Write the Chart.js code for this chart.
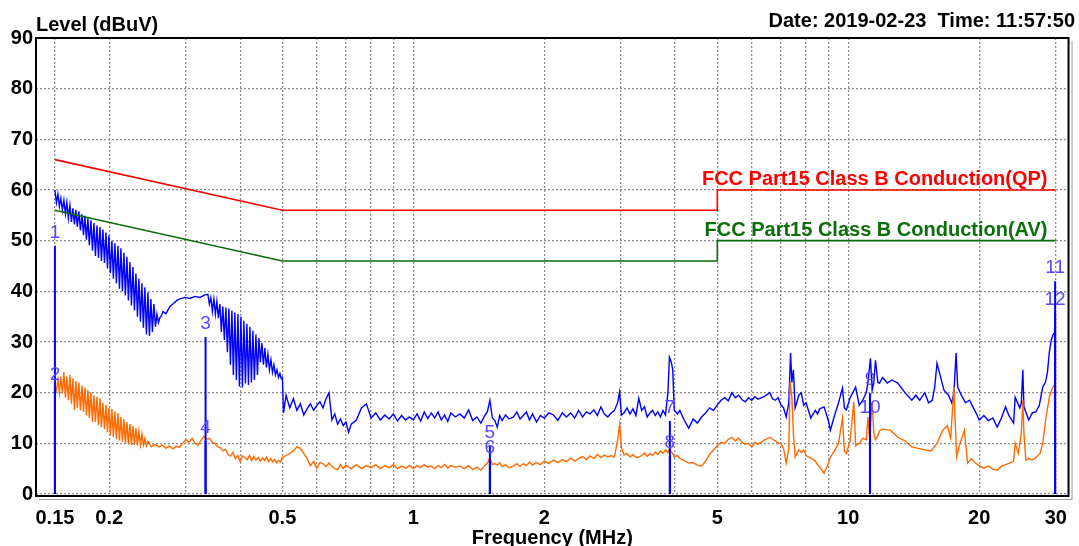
<!DOCTYPE html>
<html>
<head>
<meta charset="utf-8">
<script src="https://cdn.jsdelivr.net/npm/chart.js@4.4.1/dist/chart.umd.min.js"></script>
<style>
html,body{margin:0;padding:0;background:#fff;}
#c{display:block;}
</style>
</head>
<body>
<canvas id="c" width="1079" height="546" style="width:1079px;height:546px"></canvas>
<script>
// ---------------- data ----------------
const chartTitle = 'Level (dBuV)';
const stampText = 'Date: 2019-02-23  Time: 11:57:50';
const xAxisTitle = 'Frequency (MHz)';

const xGridTicks = [0.15,0.2,0.3,0.4,0.5,0.6,0.7,0.8,0.9,1,2,3,4,5,6,7,8,9,10,20,30];
const xTickLabels = [0.15,0.2,0.5,1,2,5,10,20,30];
const yTicks = [0,10,20,30,40,50,60,70,80,90];

const qpLimitName = 'FCC Part15 Class B Conduction(QP)';
const qpLimitFreq = [0.15,0.5,5,5,30];
const qpLimitLevel = [66,56,56,60,60];
const avLimitName = 'FCC Part15 Class B Conduction(AV)';
const avLimitFreq = [0.15,0.5,5,5,30];
const avLimitLevel = [56,46,46,50,50];

// QP (blue) trace
const qpFreq = [
0.1500,0.1512,0.1524,0.1536,0.1548,0.1560,0.1573,0.1586,0.1598,0.1611,0.1624,0.1637,0.1650,0.1663,0.1676,0.1689,
0.1703,0.1717,0.1731,0.1745,0.1758,0.1772,0.1786,0.1800,0.1815,0.1830,0.1844,0.1859,0.1874,0.1889,0.1904,0.1919,
0.1934,0.1950,0.1965,0.1981,0.1996,0.2012,0.2028,0.2044,0.2061,0.2077,0.2094,0.2111,0.2127,0.2144,0.2161,0.2178,
0.2196,0.2213,0.2231,0.2249,0.2267,0.2285,0.2303,0.2322,0.2340,0.2359,0.2377,0.2396,0.2415,0.2435,0.2454,0.2474,
0.2493,0.2513,0.2533,0.2554,0.2574,0.2594,0.2615,0.2636,0.2657,0.2700,0.2757,0.2801,0.2861,0.2907,0.2985,0.3065,
0.3147,0.3231,0.3317,
0.3371,0.3398,0.3425,0.3452,0.3480,0.3508,0.3535,0.3563,0.3592,0.3620,0.3649,0.3678,0.3708,0.3738,0.3768,0.3798,
0.3828,0.3858,0.3889,0.3920,0.3952,0.3983,0.4015,0.4047,0.4079,0.4112,0.4145,0.4178,0.4211,0.4245,0.4278,0.4312,
0.4347,0.4382,0.4417,0.4452,0.4487,0.4523,0.4559,0.4595,0.4632,0.4669,0.4707,0.4745,0.4782,0.4820,0.4859,0.4898,
0.4936,0.4970,0.500,
0.503,0.51,0.52,0.53,0.54,0.55,0.56,0.57,0.58,0.59,0.60,0.61,0.62,0.63,0.64,0.65,0.66,0.67,0.68,0.69,0.70,0.71,0.72,
0.74,0.76,0.78,0.80,0.82,0.84,0.86,0.88,0.90,0.92,0.94,0.96,0.98,1.00,1.02,1.04,1.06,1.08,1.10,1.12,1.14,1.16,1.18,
1.20,1.22,1.25,1.28,1.31,1.34,1.37,1.40,1.43,1.46,1.48,1.50,1.52,1.54,1.56,1.58,1.60,1.63,1.66,1.70,1.73,1.76,1.79,
1.82,1.85,1.88,1.92,1.96,2.00,2.05,2.10,2.15,2.20,2.25,2.30,2.35,2.40,2.45,2.50,2.55,2.60,2.65,2.70,2.75,2.80,2.85,
2.90,2.95,2.98,3.01,3.05,3.10,3.15,3.20,3.25,3.30,3.35,3.40,3.45,3.50,3.55,3.60,3.65,3.70,3.75,3.80,3.85,3.88,3.92,
3.95,3.98,4.05,4.10,4.20,4.30,4.40,4.50,4.60,4.70,4.80,4.90,5.00,5.1,5.2,5.3,5.4,5.5,5.6,5.7,5.8,5.9,6.0,6.1,6.2,
6.4,6.6,6.7,6.8,6.9,7.0,7.1,7.2,7.3,7.37,7.42,7.48,7.55,7.7,7.8,7.9,8.0,8.2,8.4,8.5,8.6,8.8,9.0,9.1,9.3,9.5,9.7,
9.8,9.9,10.1,10.4,10.6,10.8,11.0,11.1,11.25,11.35,11.45,11.55,11.7,11.8,12.0,12.3,12.6,13.0,13.5,14.0,14.3,14.6,
15.0,15.3,15.6,15.8,16.0,16.2,16.6,17.0,17.3,17.5,17.7,17.85,18.2,18.6,19.0,19.4,19.8,20.0,20.5,21.0,21.5,22.0,
22.5,23.0,23.4,24.0,24.2,24.8,25.0,25.2,25.35,26.0,26.5,27.0,27.5,28.0,28.4,28.7,29.0,29.3,29.6,30.0
];
const qpLevel = [
60.0,57.5,59.2,56.8,58.4,56.0,58.0,55.3,57.6,54.4,57.0,53.7,56.4,53.2,56.1,52.7,
55.8,52.0,55.2,51.1,54.9,50.2,54.4,49.1,54.0,48.0,53.5,47.0,53.0,46.6,52.7,46.0,
52.2,45.6,51.6,44.5,51.0,43.6,50.0,42.5,49.5,41.6,49.0,40.5,48.5,40.0,47.6,39.2,
46.8,38.2,45.8,37.2,44.8,36.2,43.5,35.0,42.5,34.0,41.6,32.8,40.8,31.5,39.8,31.2,
38.5,32.0,37.5,33.0,35.5,33.8,34.8,35.2,36.0,35.6,37.0,37.5,38.2,38.5,38.8,38.6,
39.0,38.8,39.3,
39.4,37.5,38.8,36.0,38.5,35.5,38.0,34.7,37.5,32.0,37.0,30.4,36.8,28.0,36.6,25.5,
36.2,23.5,35.8,22.5,35.5,21.2,35.0,21.0,34.2,21.8,33.6,21.5,33.0,22.0,32.2,22.5,
31.5,23.5,30.8,26.0,29.8,25.5,28.8,25.0,27.6,24.5,26.5,24.0,25.5,23.5,24.5,23.0,
23.8,22.8,23.0,
16.0,19.5,17.0,18.8,16.5,17.8,15.6,16.8,17.8,16.5,17.5,18.2,17.0,18.8,20.0,14.6,15.8,13.8,14.8,13.5,14.2,12.2,13.8,
14.6,17.0,17.8,15.0,16.0,14.6,15.6,14.8,15.8,14.4,15.5,14.6,15.2,14.6,15.8,14.4,16.2,14.9,16.0,15.0,16.2,14.6,15.6,
14.3,16.0,15.2,15.8,15.0,16.6,14.5,15.2,14.0,15.5,16.2,18.5,15.0,14.5,13.2,15.5,14.5,15.6,14.8,15.2,16.2,14.8,15.5,
16.2,14.6,15.8,14.2,15.5,15.0,16.0,15.6,14.5,16.0,15.2,16.0,15.0,16.5,15.2,16.2,15.8,16.6,15.5,17.2,15.8,15.2,16.0,
16.5,18.0,20.1,15.6,16.0,17.0,15.8,16.8,15.5,18.9,16.5,17.2,15.2,16.0,16.5,15.5,16.2,15.2,16.5,15.6,20.0,27.0,26.0,
24.5,16.6,15.8,16.5,14.5,13.0,14.8,14.0,15.2,16.0,17.0,16.5,17.6,18.5,19.0,18.4,20.0,19.0,19.5,18.6,18.2,19.0,18.5,19.2,18.7,
19.2,20.0,18.8,18.5,19.0,17.6,17.0,15.2,18.0,27.8,22.0,24.5,17.0,19.5,20.0,17.5,18.0,15.0,16.5,15.8,16.8,17.2,14.5,12.6,15.5,18.0,20.9,
17.0,16.6,19.0,21.1,17.5,18.5,20.0,22.0,26.8,20.5,22.0,26.4,22.0,21.9,23.0,21.9,22.5,21.9,20.0,18.5,19.5,18.5,
20.0,18.0,18.5,21.0,25.8,24.0,20.5,19.5,18.0,20.0,27.8,21.1,19.5,18.0,18.5,17.0,15.5,14.6,15.5,14.5,15.0,13.2,
15.0,17.2,15.5,14.0,19.1,17.0,18.0,24.5,17.2,14.6,16.0,16.2,17.5,21.1,22.0,23.9,28.0,30.4,31.5,32.0
];

// AV (orange) trace
const avFreq = [
0.1500,0.1512,0.1524,0.1536,0.1548,0.1560,0.1573,0.1586,0.1598,0.1611,0.1624,0.1637,0.1650,0.1663,0.1676,0.1689,
0.1703,0.1717,0.1731,0.1745,0.1758,0.1772,0.1786,0.1800,0.1815,0.1830,0.1844,0.1859,0.1874,0.1889,0.1904,0.1919,
0.1934,0.1950,0.1965,0.1981,0.1996,0.2012,0.2028,0.2044,0.2061,0.2077,0.2094,0.2111,0.2127,0.2144,0.2161,0.2178,
0.2196,0.2213,0.2231,0.2249,0.2267,0.2285,0.2303,0.2322,0.2340,0.2359,0.2377,0.2396,0.2415,0.2435,0.2454,
0.250,0.255,0.260,0.265,0.270,0.275,0.280,0.285,0.290,0.295,0.300,0.305,0.310,0.315,0.320,0.325,0.330,0.335,0.340,
0.345,0.350,0.355,0.360,0.365,0.370,0.375,0.380,0.385,0.390,0.395,0.400,0.405,0.410,0.415,0.420,0.425,0.430,0.435,
0.440,0.445,0.450,0.455,0.460,0.465,0.470,0.475,0.480,0.485,0.490,0.495,0.500,
0.51,0.52,0.53,0.54,0.55,0.56,0.57,0.58,0.59,0.60,0.61,0.62,0.63,0.64,0.65,0.66,0.67,0.68,0.69,0.70,0.72,0.74,0.76,
0.78,0.80,0.82,0.84,0.86,0.88,0.90,0.92,0.94,0.96,0.98,1.00,1.02,1.04,1.06,1.08,1.10,1.12,1.14,1.16,1.18,1.20,1.22,
1.25,1.28,1.31,1.34,1.37,1.40,1.43,1.46,1.48,1.50,1.52,1.54,1.56,1.58,1.60,1.63,1.66,1.70,1.73,1.76,1.79,1.82,1.85,
1.88,1.92,1.96,2.00,2.05,2.10,2.15,2.20,2.25,2.30,2.35,2.40,2.45,2.50,2.55,2.60,2.65,2.70,2.75,2.80,2.85,2.90,2.95,
2.98,3.01,3.05,3.10,3.15,3.20,3.25,3.30,3.35,3.40,3.45,3.50,3.55,3.60,3.65,3.70,3.75,3.80,3.85,3.88,3.92,3.95,3.98,
4.05,4.10,4.20,4.30,4.40,4.50,4.60,4.70,4.80,4.90,5.00,5.1,5.2,5.3,5.4,5.5,5.6,5.7,5.8,5.9,6.0,6.1,6.2,6.4,6.6,6.7,
6.8,6.9,7.0,7.1,7.2,7.3,7.35,7.42,7.48,7.55,7.7,7.8,7.9,8.0,8.2,8.4,8.5,8.6,8.8,9.0,9.1,9.3,9.5,9.7,9.8,9.9,10.1,
10.3,10.4,10.6,10.8,11.0,11.1,11.2,11.35,11.45,11.55,11.7,11.8,12.0,12.5,13.0,13.5,14.0,14.5,15.0,15.5,16.0,16.5,
16.9,17.2,17.5,17.6,17.75,18.0,18.5,18.8,19.2,19.6,20.0,20.5,21.0,21.5,22.0,22.5,23.0,23.5,24.0,24.2,24.6,25.0,25.2,
25.35,25.6,26.0,26.5,27.0,27.6,28.0,28.5,29.0,29.5,30.0
];
const avLevel = [
21.5,20.5,22.5,20.0,23.2,19.9,24.0,19.0,23.2,18.5,23.5,17.8,22.8,16.6,22.3,17.0,
22.0,16.5,21.4,16.2,21.0,15.5,20.5,15.0,20.0,14.2,19.5,14.2,19.2,13.6,18.9,13.2,
18.0,12.8,17.6,12.2,17.0,11.6,16.8,11.2,16.3,10.8,16.0,10.5,15.2,10.3,14.8,10.0,
14.2,9.8,13.8,9.7,13.4,9.7,13.0,9.6,12.4,9.7,11.8,9.7,11.0,9.5,10.4,
9.3,9.8,9.3,9.6,9.0,9.5,8.9,9.4,9.2,10.0,10.8,10.2,11.0,10.0,9.6,10.6,11.4,10.8,11.0,
10.2,10.0,9.3,9.1,8.5,8.8,7.8,7.5,8.2,7.0,7.6,6.4,7.5,7.2,6.8,7.6,6.6,7.4,6.7,
7.2,6.5,7.1,6.6,7.3,6.4,7.0,6.3,6.8,6.2,6.6,6.3,7.2,
7.6,8.0,8.5,9.3,9.0,8.0,7.0,5.6,6.4,5.1,6.2,6.0,5.4,6.1,5.5,5.0,4.8,5.8,5.0,5.7,5.0,5.8,5.0,
5.6,5.2,5.8,5.0,5.6,5.2,5.8,5.0,5.5,5.1,5.6,5.0,5.6,5.2,5.8,5.3,5.5,5.0,5.6,5.2,5.8,5.1,5.6,
5.3,5.5,5.0,5.6,4.8,5.3,4.7,5.6,6.1,7.1,5.8,6.0,5.7,6.2,5.4,5.8,5.2,5.5,6.0,5.4,6.0,5.6,6.3,
5.7,6.2,5.8,6.5,6.0,6.7,6.2,6.8,6.4,7.1,6.5,7.0,7.4,6.8,7.5,7.0,7.8,7.2,7.7,7.3,7.6,7.3,10.7,
13.6,9.3,7.7,8.0,7.3,7.8,7.2,7.3,7.6,8.1,7.4,8.0,7.6,8.3,7.8,8.5,8.0,8.7,8.2,8.8,8.3,8.0,7.3,
7.6,7.0,6.6,6.1,6.2,5.7,5.5,6.5,7.8,8.7,9.5,10.2,10.0,10.8,11.2,10.5,11.0,10.2,9.8,10.0,9.3,10.2,9.8,10.6,11.2,10.8,
10.5,10.0,10.0,9.0,6.1,9.0,22.1,19.1,12.0,7.3,8.7,8.2,8.7,7.6,7.1,6.5,5.8,5.3,4.1,6.0,7.3,8.5,10.0,15.0,8.5,8.0,10.5,
18.2,9.5,10.0,11.0,10.7,15.2,11.0,18.0,12.0,10.7,11.5,12.5,12.8,12.6,11.2,10.5,9.3,9.0,8.7,8.5,10.0,12.6,
13.5,11.0,21.1,15.0,7.3,9.5,12.6,6.1,7.0,6.1,5.6,5.1,5.5,4.9,4.7,5.5,5.8,6.1,6.5,10.0,8.0,12.0,18.5,
12.0,6.7,7.0,6.7,7.2,8.0,10.0,15.2,19.1,21.0,22.0
];

// Markers
const markerNo = ['1','2','3','4','5','6','7','8','9','10','11','12'];
const markerFreq = [0.15,0.15,0.333,0.333,1.50,1.50,3.89,3.89,11.22,11.22,29.9,29.9];
const markerLevel = [49.0,21.0,31.0,10.5,9.5,6.5,14.4,7.5,19.9,14.4,42.0,35.8];

// ---------------- chart ----------------
const FONT = "'Liberation Sans', Arial, Helvetica, sans-serif";
const pts = (xs, ys) => xs.map((x, i) => ({x: x, y: ys[i]}));

const markerSets = markerFreq.map((f, i) => ({
  data: [{x: f, y: 0}, {x: f, y: markerLevel[i]}],
  borderColor: '#0000ff', borderWidth: 2, pointRadius: 0, fill: false
}));

const datasets = [
  ...markerSets,
  {data: pts(qpLimitFreq, qpLimitLevel), borderColor: '#ff0000', borderWidth: 1.6, pointRadius: 0, tension: 0},
  {data: pts(avLimitFreq, avLimitLevel), borderColor: '#0a6e0a', borderWidth: 1.6, pointRadius: 0, tension: 0},
  {data: pts(avFreq, avLevel), borderColor: '#ff6a00', borderWidth: 1.4, pointRadius: 0, tension: 0},
  {data: pts(qpFreq, qpLevel), borderColor: '#0000ff', borderWidth: 1.4, pointRadius: 0, tension: 0}
];

const decorPlugin = {
  id: 'decor',
  afterDatasetsDraw(chart) {
    const {ctx, chartArea: a, scales: {x, y}} = chart;
    ctx.save();
    // marker labels
    ctx.font = '19px ' + FONT;
    ctx.fillStyle = '#5a48ff';
    ctx.textAlign = 'center';
    ctx.textBaseline = 'middle';
    markerNo.forEach((n, i) => {
      ctx.fillText(n, x.getPixelForValue(markerFreq[i]), y.getPixelForValue(markerLevel[i]) - 13);
    });
    // limit names
    ctx.font = 'bold 20px ' + FONT;
    ctx.textAlign = 'right';
    ctx.textBaseline = 'alphabetic';
    ctx.fillStyle = '#ff0000';
    ctx.fillText(qpLimitName, a.right - 21, y.getPixelForValue(qpLimitLevel[qpLimitLevel.length - 1]) - 5);
    ctx.fillStyle = '#0a6e0a';
    ctx.fillText(avLimitName, a.right - 21, y.getPixelForValue(avLimitLevel[avLimitLevel.length - 1]) - 5);
    ctx.restore();
  },
  afterDraw(chart) {
    const {ctx, chartArea: a} = chart;
    ctx.save();
    // frame
    ctx.strokeStyle = '#000';
    ctx.lineWidth = 2;
    ctx.strokeRect(a.left, a.top, a.right - a.left, a.bottom + 2 - a.top);
    ctx.strokeStyle = '#9a9a9a';
    ctx.lineWidth = 1;
    ctx.beginPath();
    ctx.moveTo(a.left + 3, a.bottom + 5.5);
    ctx.lineTo(a.right + 3.5, a.bottom + 5.5);
    ctx.lineTo(a.right + 3.5, a.top + 3);
    ctx.stroke();
    // titles
    ctx.fillStyle = '#000';
    ctx.font = 'bold 20px ' + FONT;
    ctx.textBaseline = 'alphabetic';
    ctx.textAlign = 'left';
    ctx.fillText(chartTitle, a.left, 31);
    ctx.textAlign = 'right';
    ctx.fillText(stampText, 1075, 27);
    ctx.textAlign = 'center';
    ctx.fillText(xAxisTitle, (a.left + a.right) / 2, 544);
    ctx.restore();
  }
};

const gridStyle = {color: '#8e8e8e', lineWidth: 1.3, drawTicks: false};

new Chart(document.getElementById('c'), {
  type: 'line',
  data: {datasets},
  plugins: [decorPlugin],
  options: {
    responsive: false,
    animation: false,
    events: [],
    parsing: true,
    layout: {padding: {left: 0, right: 10, top: 38, bottom: 0}},
    plugins: {legend: {display: false}, tooltip: {enabled: false}},
    scales: {
      x: {
        type: 'logarithmic',
        min: 0.1357, max: 32.1,
        afterBuildTicks: s => { s.ticks = xGridTicks.map(v => ({value: v})); },
        afterFit: s => { s.height = 52; },
        grid: gridStyle,
        border: {display: false, dash: [2, 2]},
        ticks: {
          autoSkip: false, maxRotation: 0, minRotation: 0, padding: 12,
          color: '#000', font: {family: FONT, size: 20, weight: 'bold'},
          callback: v => xTickLabels.some(t => Math.abs(t - v) < 1e-9) ? String(v) : ''
        }
      },
      y: {
        min: 0, max: 90,
        afterBuildTicks: s => { s.ticks = yTicks.map(v => ({value: v})); },
        afterFit: s => { s.width = 36; },
        grid: gridStyle,
        border: {display: false, dash: [2, 2]},
        ticks: {
          padding: 3, color: '#000', font: {family: FONT, size: 20, weight: 'bold'},
          callback: v => String(v)
        }
      }
    }
  }
});
</script>
</body>
</html>
